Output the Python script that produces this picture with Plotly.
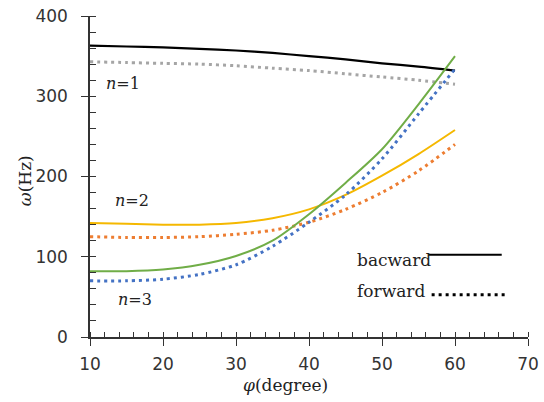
import plotly.graph_objects as go

phi = [10, 15, 20, 25, 30, 35, 40, 45, 50, 55, 60]

n1_backward = [363, 362, 361, 359, 357, 354, 350, 346, 341, 337, 332]
n1_forward = [343, 342, 341, 340, 338, 335, 332, 328, 324, 320, 315]
n2_backward = [142, 141, 140, 140, 142, 148, 159, 177, 201, 228, 258]
n2_forward = [125, 124, 124, 125, 128, 133, 143, 159, 180, 207, 240]
n3_backward = [82, 82, 84, 90, 101, 120, 153, 192, 234, 290, 350]
n3_forward = [70, 70, 72, 78, 90, 113, 143, 177, 222, 278, 334]

series = [
    ("n=1 backward", n1_backward, "#000000", "solid", 2.2),
    ("n=1 forward", n1_forward, "#A5A5A5", "3px,4px", 3),
    ("n=2 backward", n2_backward, "#F5B800", "solid", 2),
    ("n=2 forward", n2_forward, "#ED7D31", "3px,4px", 3),
    ("n=3 backward", n3_backward, "#70AD47", "solid", 2),
    ("n=3 forward", n3_forward, "#4472C4", "3px,4px", 3),
]

fig = go.Figure()
for name, ys, color, dash, w in series:
    fig.add_trace(go.Scatter(x=phi, y=ys, mode="lines", name=name,
                             line=dict(color=color, dash=dash, width=w, shape="spline", smoothing=0.8),
                             showlegend=False))

axis_color = "#333333"
tickfont = dict(family="DejaVu Sans", size=17, color="#333333")
serif = "DejaVu Serif"
txt_color = "#222222"

fig.update_xaxes(range=[10, 70], dtick=10, showgrid=False, zeroline=False, automargin=False,
                 showline=True, linecolor=axis_color, linewidth=1.5,
                 ticks="outside", ticklen=7, tickwidth=1.3, tickcolor=axis_color,
                 minor=dict(ticks="inside", dtick=2, ticklen=5, tickcolor=axis_color, tickwidth=1),
                 tickfont=tickfont, ticklabelstandoff=4, ticklabeloverflow="allow")
fig.update_yaxes(range=[0, 400], dtick=100, showgrid=False, zeroline=False, automargin=False,
                 showline=True, linecolor=axis_color, linewidth=1.5,
                 ticks="outside", ticklen=7, tickwidth=1.3, tickcolor=axis_color,
                 minor=dict(ticks="inside", dtick=20, ticklen=6, tickcolor=axis_color, tickwidth=1),
                 tickfont=tickfont, ticklabelstandoff=10, ticklabeloverflow="allow")

anns = [
    dict(x=14.5, y=316, text="<i>n</i>=1"),
    dict(x=15.8, y=170, text="<i>n</i>=2"),
    dict(x=16.2, y=47, text="<i>n</i>=3"),
]
for a in anns:
    fig.add_annotation(x=a["x"], y=a["y"], text=a["text"], showarrow=False,
                       font=dict(family=serif, size=16, color=txt_color))

fig.add_annotation(x=46.3, y=96, text="bacward", showarrow=False, xanchor="left",
                   font=dict(family=serif, size=17, color=txt_color))
fig.add_annotation(x=46.3, y=57.5, text="forward", showarrow=False, xanchor="left",
                   font=dict(family=serif, size=17, color=txt_color))
fig.add_shape(type="line", xref="x", yref="y", x0=56.3, x1=66.4, y0=102.5, y1=102.5,
              line=dict(color="#000000", width=2.2))
fig.add_shape(type="line", xref="x", yref="y", x0=56.8, x1=67.1, y0=52.5, y1=52.5,
              line=dict(color="#000000", width=3, dash="3px,4px"))

fig.add_annotation(x=(285 - 90) / 438, xref="paper", y=-0.15, yref="paper",
                   text="<i>φ</i>(degree)", showarrow=False, yanchor="middle",
                   font=dict(family=serif, size=17, color=txt_color))
fig.add_annotation(x=-0.148, xref="paper", y=0.486, yref="paper",
                   text="<i>ω</i>(Hz)", showarrow=False, textangle=-90,
                   xanchor="center", yanchor="middle",
                   font=dict(family=serif, size=17, color=txt_color))

fig.update_layout(width=544, height=402, margin=dict(l=90, r=16, t=16, b=65),
                  plot_bgcolor="white", paper_bgcolor="white")

# remove the default 8px page margin so the figure fills the window exactly
fig.write_html("out.html", config={"displayModeBar": False},
               post_script="document.body.style.margin='0px';document.body.style.overflow='hidden';")
